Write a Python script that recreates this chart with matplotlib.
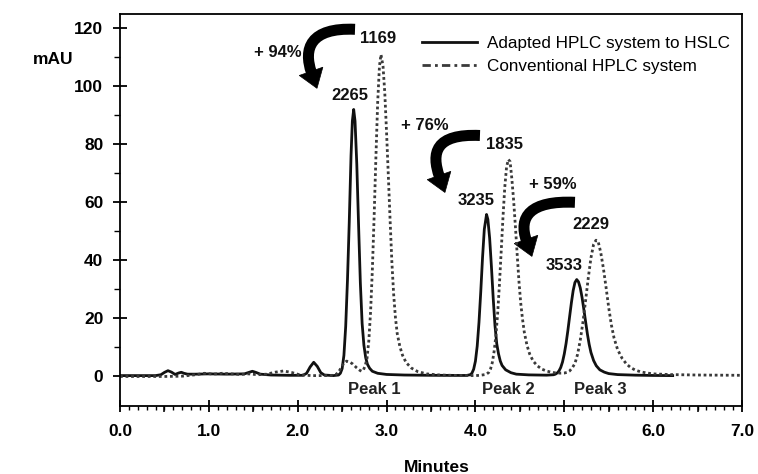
import matplotlib
matplotlib.use('Agg')
import numpy as np
import matplotlib.pyplot as plt
from matplotlib.patches import PathPatch, Polygon
from matplotlib.path import Path
from matplotlib.lines import Line2D
from matplotlib.ticker import FixedLocator

# ---- data ----
adapted_t = [0.00, 0.20, 0.40, 0.46, 0.50, 0.54, 0.58, 0.62, 0.66, 0.69, 0.72, 0.76, 0.85, 1.00,
             1.20, 1.40, 1.45, 1.49, 1.53, 1.58, 1.70, 1.90, 2.06, 2.10, 2.14, 2.18, 2.22, 2.26,
             2.30, 2.40, 2.46, 2.48, 2.50, 2.52, 2.54, 2.56, 2.58, 2.60, 2.615, 2.63, 2.645, 2.665,
             2.685, 2.705, 2.725, 2.745, 2.765, 2.785, 2.81, 2.84, 2.90, 3.00, 3.20, 3.50, 3.90,
             3.94, 3.96, 3.98, 4.00, 4.02, 4.04, 4.06, 4.08, 4.10, 4.125, 4.14, 4.16, 4.18, 4.20,
             4.22, 4.24, 4.26, 4.28, 4.30, 4.34, 4.40, 4.46, 4.60, 4.80, 4.88,
             4.90, 4.92, 4.94, 4.96, 4.98, 5.00, 5.02, 5.04, 5.06, 5.08, 5.10, 5.12, 5.14, 5.16,
             5.18, 5.20, 5.22, 5.24, 5.26, 5.28, 5.30, 5.33, 5.36, 5.40, 5.45, 5.50, 5.60, 5.80,
             6.00, 6.22]
adapted_mau = [0, 0, 0, 0.3, 1.1, 1.7, 1.2, 0.4, 0.9, 1.15, 0.8, 0.5, 0.5, 0.6,
               0.5, 0.6, 1.1, 1.5, 1.1, 0.5, 0.2, 0.1, 0.1, 0.8, 3.0, 4.6, 3.2, 1.0,
               0.2, 0.0, 0.2, 0.8, 2.4, 7, 17, 33, 53, 76, 88, 92, 88, 73,
               52, 32, 18, 10.5, 6.2, 3.9, 2.5, 1.5, 0.8, 0.4, 0.2, 0.1, 0.05,
               0.3, 0.8, 2.2, 5.0, 10.2, 18.4, 29, 40.8, 50.6, 55.7, 54, 47.5, 37.7, 26.8,
               17.3, 11, 7.5, 5, 3.5, 2, 1.0, 0.5, 0.25, 0.15, 0.3,
               0.5, 0.9, 1.6, 2.8, 4.7, 7.5, 11.1, 15.5, 20.4, 25.2, 29.4, 32.2, 33.2, 32.4,
               30.3, 27, 22.9, 18.6, 14.4, 10.8, 8.0, 5.2, 3.4, 2.0, 1.2, 0.7, 0.35, 0.15,
               0.05, 0]

conventional_t = [0.00, 0.30, 0.50, 0.70, 0.85, 0.95, 1.05, 1.15, 1.25, 1.35, 1.45, 1.55, 1.65,
                  1.75, 1.84, 1.93, 2.02, 2.15, 2.30, 2.40, 2.43, 2.46, 2.49, 2.52, 2.55, 2.58,
                  2.62, 2.66, 2.70, 2.72, 2.74, 2.76, 2.78, 2.80, 2.82, 2.84, 2.86, 2.88, 2.90,
                  2.92, 2.937, 2.96, 2.98, 3.00, 3.02, 3.04, 3.06, 3.08, 3.10, 3.12, 3.15, 3.18,
                  3.22, 3.28, 3.35, 3.45, 3.60, 3.80, 4.00, 4.05, 4.12, 4.15, 4.17, 4.19, 4.21,
                  4.23, 4.25, 4.27, 4.29, 4.31, 4.33, 4.35, 4.37, 4.39, 4.41, 4.43, 4.45, 4.47,
                  4.49, 4.51, 4.53, 4.55, 4.58, 4.61, 4.65, 4.70, 4.75, 4.80, 4.86, 4.92, 4.96,
                  5.00, 5.03, 5.06, 5.09, 5.12, 5.15, 5.18, 5.21, 5.24, 5.27, 5.30, 5.33, 5.357,
                  5.38, 5.41, 5.44, 5.47, 5.50, 5.53, 5.56, 5.60, 5.65, 5.70, 5.75, 5.80, 5.86,
                  5.93, 6.00, 6.20, 6.50, 7.00]
conventional_mau = [-0.3, -0.3, -0.3, -0.2, 0.3, 0.8, 0.5, 0.8, 0.6, 0.4, 0.6, 0.3, 0.5,
                    1.2, 1.6, 1.1, 0.3, 0.0, 0.0, 0.1, 0.4, 1.2, 2.8, 4.3, 5.0, 4.8,
                    4.0, 2.8, 1.8, 1.5, 2.0, 3.5, 6, 12, 22, 36.5, 55, 75.5, 94.5,
                    107, 111, 107, 97.7, 84, 69, 53.5, 39, 28, 20, 14.5, 10, 7,
                    4.5, 2.6, 1.4, 0.6, 0.2, 0.05, 0.0, 0.1, 0.4, 1.1, 2.3, 4.5, 8.3,
                    13.7, 21.4, 31.5, 43, 54.7, 65, 72, 74.7, 74, 68, 60.5, 51.5, 41.8,
                    32.5, 25, 19.5, 15, 10.5, 7.5, 5, 3.3, 2.2, 1.6, 1.1, 0.9, 0.85,
                    0.9, 1.1, 1.6, 2.7, 4.2, 7.4, 12.3, 18.5, 26, 33.8, 40.7, 45.4, 46.8,
                    46.5, 42.6, 37.1, 30.5, 23.5, 17.5, 13, 9, 6, 4, 2.7, 1.9, 1.3,
                    0.9, 0.6, 0.35, 0.2, 0.1]

series_labels = ['Adapted HPLC system to HSLC', 'Conventional HPLC system']
x_ticks = [0, 1, 2, 3, 4, 5, 6, 7]
x_tick_labels = ['0.0', '1.0', '2.0', '3.0', '4.0', '5.0', '6.0', '7.0']
y_ticks = [0, 20, 40, 60, 80, 100, 120]

# plate numbers: (label, x, y)
plates_adapted = [('2265', 2.59, 96.7), ('3235', 4.006, 60.4), ('3533', 5.00, 38.2)]
plates_conventional = [('1169', 2.90, 116.6), ('1835', 4.33, 79.8), ('2229', 5.30, 52.2)]
gains = [('+ 94%', 1.78, 111.6), ('+ 76%', 3.43, 86.5), ('+ 59%', 4.873, 66.0)]
peak_names = [('Peak 1', 2.86, -4.8), ('Peak 2', 4.37, -4.8), ('Peak 3', 5.40, -4.8)]
# curved arrows: (tail x, tail y, tip x, tip y)
arrows = [(2.645, 119.7, 2.217, 99.3), (4.051, 83.0, 3.657, 63.3), (5.12, 59.9, 4.636, 41.2)]

plt.rcParams['font.family'] = ['Liberation Sans', 'DejaVu Sans']

fig = plt.figure(figsize=(7.58, 4.74), dpi=100)
ax = fig.add_axes([0.1583, 0.1435, 0.8206, 0.827])

ax.plot(adapted_t, adapted_mau, color='#111111', lw=2.0, solid_joinstyle='round')
ax.plot(conventional_t, conventional_mau, color='#3a3a3a', lw=2.0, linestyle=(0, (1, 1)))

ax.set_xlim(0, 7)
ax.set_ylim(-10.5, 125)

ax.set_xticks(x_ticks)
ax.set_xticklabels(x_tick_labels)
ax.xaxis.set_minor_locator(FixedLocator([i / 10 for i in range(71) if i % 10 != 0]))
ax.set_yticks(y_ticks)
ax.yaxis.set_minor_locator(FixedLocator([10, 30, 50, 70, 90, 110]))

ax.tick_params(axis='x', which='major', direction='inout', length=8.6, width=1.3, pad=9,
               labelsize=12.5)
ax.tick_params(axis='x', which='minor', direction='out', length=3, width=1.0)
ax.tick_params(axis='y', which='major', direction='inout', length=10, width=1.3, pad=7,
               labelsize=12.5)
ax.tick_params(axis='y', which='minor', direction='out', length=4.3, width=1.0)
for lab in ax.get_xticklabels() + ax.get_yticklabels():
    lab.set_fontweight('bold')

sec = ax.secondary_xaxis('bottom')
sec.set_xticks([0.5, 1.5, 2.5, 3.5, 4.5, 5.5, 6.5])
sec.set_xticklabels([])
sec.tick_params(direction='out', length=4.5, width=1.1)
sec.spines['bottom'].set_visible(False)

for s in ax.spines.values():
    s.set_linewidth(1.3)

for lab, x, y in plates_adapted + plates_conventional + gains:
    ax.text(x, y, lab, ha='center', va='center', fontsize=12, fontweight='bold', color='#111')
for lab, x, y in peak_names:
    ax.text(x, y, lab, ha='center', va='center', fontsize=12, fontweight='bold', color='#222')

# curved "C" arrows: cubic body + triangular head, shaped in pixel space
to_disp = ax.transData.transform
to_data = ax.transData.inverted().transform
head_len, head_half, body_px = 18.0, 12.5, 11.0
for x0, y0, x1, y1 in arrows:
    A = to_disp((x0, y0))
    B = to_disp((x1, y1))
    u = np.array([0.35, -1.0])
    u = u / np.hypot(*u)
    perp = np.array([-u[1], u[0]])
    base = B - head_len * u
    P1 = A + np.array([-45.0, 2.0])
    P2 = base - 24.0 * u
    body = Path(to_data(np.array([A, P1, P2, base + 1.5 * u])),
                [Path.MOVETO, Path.CURVE4, Path.CURVE4, Path.CURVE4])
    ax.add_patch(PathPatch(body, facecolor='none', edgecolor='black',
                           lw=body_px * 72 / 100, capstyle='butt'))
    head = to_data(np.array([B, base + head_half * perp, base - head_half * perp]))
    ax.add_patch(Polygon(head, closed=True, facecolor='black', edgecolor='black', lw=0.5))

handles = [Line2D([], [], color='#111111', lw=2.0),
           Line2D([], [], color='#3a3a3a', lw=2.0, linestyle=(0, (3, 1.5, 1, 1.5)))]
ax.legend(handles, series_labels, loc='upper left', bbox_to_anchor=(0.4855, 0.945),
          frameon=False, fontsize=12.3, handlelength=3.2, handletextpad=0.6,
          labelspacing=0.5, borderpad=0, borderaxespad=0)

fig.text(0.0435, 0.8755, 'mAU', ha='left', va='center', fontsize=12.5, fontweight='bold')
fig.text(0.5765, 0.013, 'Minutes', ha='center', va='center', fontsize=12.5, fontweight='bold')

fig.savefig('out.png', dpi=100)
